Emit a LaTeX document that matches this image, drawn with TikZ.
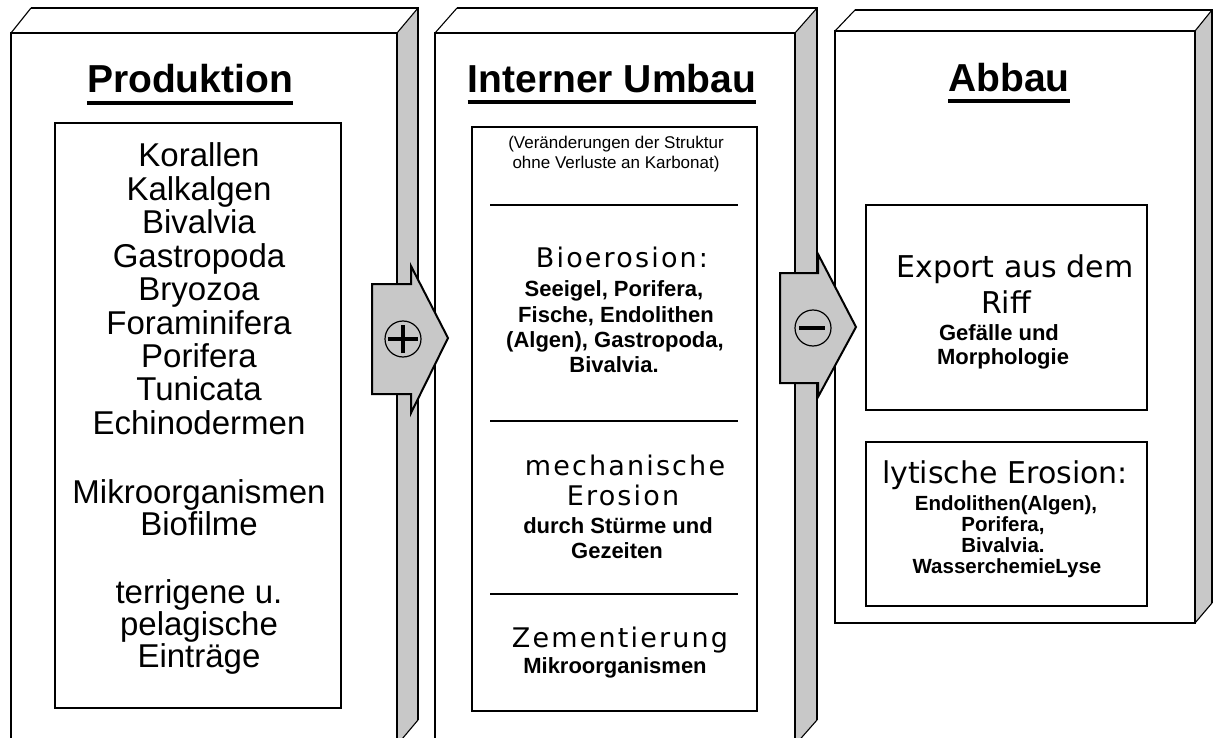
\documentclass[tikz,border=0pt]{standalone}
\usepackage{fontspec}
\setmainfont{Liberation Sans}
\newfontfamily\dvB[LetterSpace=8]{DejaVu Sans}
\newfontfamily\dvC{DejaVu Sans}
\definecolor{sidegray}{RGB}{200,200,200}
\tikzset{
  frontface/.style={draw=black, line width=2.4pt, fill=white},
  backedge/.style={draw=black, line width=2pt},
  slant/.style={draw=black, line width=1.1pt},
  sideface/.style={fill=sidegray},
  innerbox/.style={draw=black, line width=2.4pt},
  sepline/.style={draw=black, line width=2pt},
  blockarrow/.style={draw=black, line width=2pt, fill=sidegray, line join=miter},
  ttl/.style={anchor=base, inner sep=0pt, font=\bfseries\fontsize{39}{39}\selectfont},
  body/.style={anchor=base, inner sep=0pt, font=\fontsize{33}{33}\selectfont},
  midB/.style={anchor=base, inner sep=0pt, font=\dvB\fontsize{27}{27}\selectfont},
  midC/.style={anchor=base, inner sep=0pt, font=\dvC\fontsize{30}{30}\selectfont},
  smallb/.style={anchor=base, inner sep=0pt, font=\bfseries\fontsize{22}{22}\selectfont},
  smallerb/.style={anchor=base, inner sep=0pt, font=\bfseries\fontsize{20.5}{20.5}\selectfont},
  tinyt/.style={anchor=base, inner sep=0pt, font=\fontsize{17}{17}\selectfont},
  uline/.style={draw=black, line width=4pt}
}
\begin{document}
\begin{tikzpicture}[x=1pt,y=-1pt]
\useasboundingbox (0,0) rectangle (1213,738);
\clip (0,0) rectangle (1213,738);

% ---------- Box 1 ----------
\fill[sideface] (397,33) -- (418,8) -- (418,720) -- (397,745) -- cycle;
\draw[slant] (11,33) -- (31,8);
\draw[slant] (397,33) -- (418,8);
\draw[slant] (418,720) -- (397,745);
\draw[backedge] (31,8) -- (418,8) -- (418,720);
\draw[frontface] (11,33) rectangle (397,745);
\draw[innerbox] (55,123) rectangle (341,708);

% ---------- Box 2 ----------
\fill[sideface] (795,33) -- (817,8) -- (817,720) -- (795,745) -- cycle;
\draw[slant] (435,33) -- (457,8);
\draw[slant] (795,33) -- (817,8);
\draw[slant] (817,720) -- (795,745);
\draw[backedge] (457,8) -- (817,8) -- (817,720);
\draw[frontface] (435,33) rectangle (795,745);
\draw[innerbox] (472,127) rectangle (757,711);
\draw[sepline] (490,205) -- (738,205);
\draw[sepline] (490,421) -- (738,421);
\draw[sepline] (490,594) -- (738,594);

% ---------- Box 3 ----------
\fill[sideface] (1195,31) -- (1212,10) -- (1212,603) -- (1195,623) -- cycle;
\draw[slant] (835,31) -- (855,10);
\draw[slant] (1195,31) -- (1212,10);
\draw[slant] (1212,603) -- (1195,623);
\draw[backedge] (855,10) -- (1212,10) -- (1212,603);
\draw[frontface] (835,31) rectangle (1195,623);
\draw[innerbox] (866,205) rectangle (1147,410);
\draw[innerbox] (866,442) rectangle (1147,606);

% ---------- Titles ----------
\node[ttl] (t1) at (190,93) {Produktion};
\draw[uline] ([yshift=-10pt]t1.base west) -- ([yshift=-10pt]t1.base east);
\node[ttl] (t2) at (612,93) {Interner Umbau};
\draw[uline] ([yshift=-9pt]t2.base west) -- ([yshift=-9pt]t2.base east);
\node[ttl] (t3) at (1009,92) {Abbau};
\draw[uline] ([yshift=-9pt]t3.base west) -- ([yshift=-9pt]t3.base east);

% ---------- Box 1 text ----------
\foreach \txt/\yy [count=\i] in {Korallen/167, Kalkalgen/200.5, Bivalvia/234, Gastropoda/267,
  Bryozoa/300.5, Foraminifera/334, Porifera/367, Tunicata/400.5, Echinodermen/434,
  Mikroorganismen/503, Biofilme/535, terrigene u./603, pelagische/635, Einträge/667}
  \node[body] (p\i) at (199,\yy) {\txt};

% ---------- Box 2 text ----------
\node[tinyt] (u1) at (616,149) {(Veränderungen der Struktur};
\node[tinyt] (u2) at (616,169) {ohne Verluste an Karbonat)};
\node[midB] (b1) at (622,267) {Bioerosion:};
\node[smallb] (b2) at (614,296) {Seeigel, Porifera,};
\node[smallb] (b3) at (616,322) {Fische, Endolithen};
\node[smallb] (b4) at (615,347) {(Algen), Gastropoda,};
\node[smallb] (b5) at (614,372) {Bivalvia.};
\node[midB] (m1) at (625,475) {mechanische};
\node[midB] (m2) at (623,505) {Erosion};
\node[smallb] (m3) at (618,533) {durch Stürme und};
\node[smallb] (m4) at (617,558) {Gezeiten};
\node[midB] (z1) at (620,647) {Zementierung};
\node[smallb] (z2) at (615,673) {Mikroorganismen};

% ---------- Box 3 text ----------
\node[midC] (e1) at (1015,277) {Export aus dem};
\node[midC] (e2) at (1006,313) {Riff};
\node[smallb] (e3) at (999,340) {Gefälle und};
\node[smallb] (e4) at (1003,364) {Morphologie};
\node[midC] (l1) at (1005,483) {lytische Erosion:};
\node[smallerb] (l2) at (1006,510) {Endolithen(Algen),};
\node[smallerb] (l3) at (1003,531) {Porifera,};
\node[smallerb] (l4) at (1003,552) {Bivalvia.};
\node[smallerb] (l5) at (1007,573) {WasserchemieLyse};

% ---------- Block arrows ----------
\draw[blockarrow] (372,284) -- (411,284) -- (411,266) -- (448,338) -- (411,413) -- (411,394) -- (372,394) -- cycle;
\node[circle, draw=black, line width=1.2pt, minimum size=36pt, inner sep=0pt] (plus) at (403,339) {};
\draw[line width=3.5pt] ([xshift=-15pt]plus.center) -- ([xshift=15pt]plus.center);
\draw[line width=3.5pt] ([yshift=-14pt]plus.center) -- ([yshift=14pt]plus.center);

\draw[blockarrow] (780,273) -- (818,273) -- (818,254) -- (856,327) -- (818,397) -- (818,383) -- (780,383) -- cycle;
\node[circle, draw=black, line width=1.2pt, minimum size=36pt, inner sep=0pt] (minus) at (813,328) {};
\draw[line width=4pt] ([xshift=-14pt]minus.center) -- ([xshift=12pt]minus.center);
\end{tikzpicture}
\end{document}
